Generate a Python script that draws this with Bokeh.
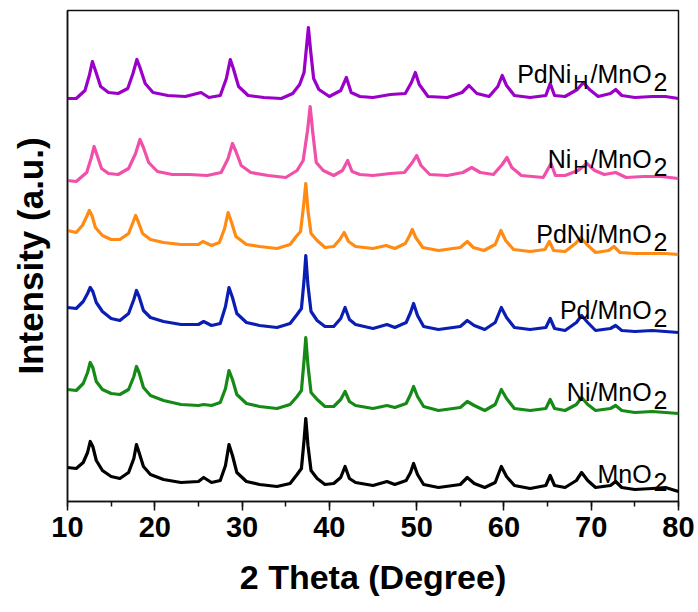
from bokeh.plotting import figure
from bokeh.models import Range1d, FixedTicker, SingleIntervalTicker, Label
from bokeh.embed import file_html
from bokeh.resources import INLINE

# ---------------- data (2 Theta in degrees, intensity in a.u., stacked) -------------
two_theta_a = [10, 11, 11.8, 12.3, 12.6, 12.9, 13.3, 14, 15, 16,
               17, 17.6, 17.9, 18.2, 18.7, 19.5, 21, 23, 25, 25.6,
               26.5, 27.5, 28.1, 28.5, 28.9, 29.4, 30.5, 32, 34, 35.5,
               36.3, 36.8, 37.1, 37.3, 37.55, 37.9, 38.6, 39.5, 40.5, 41.3,
               41.8, 42.3, 43, 45, 46.6, 47.5, 48.8, 49.3, 49.65, 50.1,
               50.8, 52.5, 55, 55.8, 56.6, 57.8, 59, 59.7, 60.3, 61.2,
               63, 64.8, 65.3, 65.8, 67, 68.3, 68.9, 69.6, 70.5, 72.2,
               72.8, 73.5, 75, 77, 78.5, 80]

mno2 = [34, 33, 39, 49, 60, 55, 41, 31, 25, 23,
        29, 43, 57, 49, 35, 27, 22, 19, 20, 24,
        19, 21, 36, 57, 46, 29, 20, 17, 15, 18,
        27, 33, 61, 83, 56, 31, 23, 17, 18, 24,
        35, 23, 19, 16, 20, 17, 21, 29, 38, 27,
        17, 14, 17, 24, 18, 14, 19, 35, 25, 16,
        13, 16, 26, 16, 14, 21, 29, 21, 14, 16,
        20, 14, 12, 13, 14, 10]

ni_mno2 = [112, 111, 118, 129, 139, 134, 120, 112, 108, 107,
           112, 125, 135, 129, 114, 106, 101, 97, 96, 97,
           96, 99, 113, 131, 122, 107, 98, 95, 93, 97,
           105, 111, 141, 164, 136, 109, 102, 95, 95, 102,
           110, 100, 96, 93, 96, 94, 98, 107, 115, 105,
           95, 91, 94, 100, 96, 91, 97, 112, 103, 93,
           91, 93, 102, 93, 91, 97, 104, 97, 91, 93,
           96, 91, 89, 90, 89, 88]

pd_mno2 = [194, 193, 200, 208, 214, 210, 199, 190, 183, 181,
           188, 202, 211, 205, 191, 184, 180, 177, 177, 180,
           176, 178, 195, 214, 204, 188, 179, 176, 174, 178,
           187, 193, 221, 246, 216, 190, 181, 175, 175, 183,
           194, 182, 177, 173, 177, 174, 179, 189, 198, 186,
           175, 172, 175, 181, 176, 172, 179, 194, 184, 174,
           172, 174, 183, 173, 171, 179, 186, 179, 171, 173,
           176, 171, 170, 171, 170, 169]

two_theta_b = [10, 11, 11.7, 12.2, 12.5, 12.8, 13.2, 14, 15, 16,
               17, 17.5, 17.8, 18.1, 18.6, 19.5, 21, 23, 25, 25.5,
               26.5, 27.4, 28.0, 28.4, 28.8, 29.3, 30.5, 32, 34, 35.5,
               36.2, 36.7, 37.05, 37.3, 37.55, 37.9, 38.6, 39.5, 40.5, 41.2,
               41.7, 42.2, 43, 45, 46.5, 47.5, 48.7, 49.2, 49.5, 49.9,
               50.7, 52.5, 55, 55.8, 56.5, 57.7, 59, 59.65, 60.2, 61.1,
               63, 64.7, 65.2, 65.7, 67, 68.2, 68.8, 69.5, 70.5, 72,
               72.6, 73.3, 75, 77, 78.5, 80]

pdni_mno2 = [271, 269, 276, 285, 291, 286, 274, 266, 262, 262,
             268, 279, 286, 280, 268, 262, 259, 257, 257, 260,
             256, 259, 273, 289, 279, 265, 257, 255, 253, 257,
             265, 270, 296, 318, 291, 268, 261, 254, 255, 262,
             269, 260, 255, 253, 256, 253, 258, 266, 272, 264,
             254, 251, 254, 260, 254, 251, 257, 271, 261, 252,
             250, 252, 260, 251, 250, 258, 264, 257, 249, 251,
             255, 249, 248, 248, 248, 247]

two_theta_c = [10, 11, 12.2, 12.7, 13.05, 13.4, 13.9, 14.7, 15.8, 17.0,
               17.8, 18.3, 18.7, 19.3, 20.3, 22, 24, 26, 27.6, 28.4,
               28.9, 29.3, 29.9, 31, 33, 35, 36.3, 37.0, 37.5, 37.8,
               38.1, 38.5, 39.3, 40.5, 41.5, 42.1, 42.6, 43.5, 45, 47,
               48.6, 49.5, 50.0, 50.5, 51.5, 53.5, 55.3, 56.3, 57.3, 58.8,
               59.8, 60.35, 60.9, 62, 64.5, 65.4, 65.9, 67, 68.5, 69.5,
               70.4, 71.5, 72.8, 74, 76, 78, 80]

nih_mno2 = [321, 320, 329, 343, 355, 346, 333, 328, 327, 333,
            348, 362, 354, 339, 330, 327, 327, 326, 329, 343,
            358, 350, 336, 329, 326, 324, 331, 341, 371, 395,
            369, 339, 331, 326, 331, 341, 330, 327, 326, 328,
            329, 339, 346, 336, 327, 326, 329, 334, 329, 327,
            337, 344, 334, 326, 324, 338, 326, 326, 331, 338,
            331, 327, 329, 324, 325, 325, 323]

two_theta_d = [10, 11, 12.0, 12.5, 12.85, 13.2, 13.8, 14.7, 15.8, 16.9,
               17.5, 17.95, 18.3, 18.9, 19.8, 21.5, 23.5, 25.3, 26.2, 27.5,
               28.2, 28.65, 29.0, 29.6, 30.7, 32.5, 34.5, 35.8, 36.6, 37.1,
               37.4, 37.6, 37.85, 38.2, 38.8, 40, 41.3, 41.95, 42.5, 43.5,
               45, 47, 48.7, 49.4, 49.85, 50.3, 51.3, 53.5, 55.2, 56.0,
               56.9, 58.3, 59.3, 59.8, 60.3, 61.2, 63, 64.8, 65.3, 65.8,
               67, 68.4, 69.1, 69.8, 70.8, 72.2, 72.8, 73.5, 75, 77,
               78.5, 80]

pdnih_mno2 = [403, 403, 411, 426, 440, 431, 415, 409, 408, 413,
              428, 442, 434, 418, 409, 406, 405, 409, 404, 406,
              423, 442, 433, 415, 406, 404, 403, 408, 417, 429,
              456, 474, 451, 423, 412, 405, 411, 424, 409, 405,
              404, 407, 408, 419, 429, 417, 405, 404, 409, 416,
              408, 405, 415, 426, 416, 406, 404, 406, 418, 406,
              405, 412, 419, 412, 405, 408, 412, 406, 404, 405,
              405, 403]

# label pieces: (text, is_subscript), baseline height
labels = [
    ([("PdNi", False), ("H", True), ("/MnO", False), ("2", True)], 428),
    ([("Ni", False), ("H", True), ("/MnO", False), ("2", True)], 343),
    ([("PdNi/MnO", False), ("2", True)], 268),
    ([("Pd/MnO", False), ("2", True)], 192),
    ([("Ni/MnO", False), ("2", True)], 110),
    ([("MnO", False), ("2", True)], 28),
]

series = [
    (two_theta_a, mno2, "#000000"),
    (two_theta_a, ni_mno2, "#168A16"),
    (two_theta_a, pd_mno2, "#0A1EB4"),
    (two_theta_b, pdni_mno2, "#FF8A14"),
    (two_theta_c, nih_mno2, "#F050AA"),
    (two_theta_d, pdnih_mno2, "#9A00C8"),
]

# ---------------- figure ----------------
FONT = "Liberation Sans"
p = figure(width=698, height=612, output_backend="svg", toolbar_location=None,
           x_range=Range1d(10, 80), y_range=Range1d(0, 491),
           min_border_left=67, min_border_right=20, min_border_top=10,
           min_border_bottom=111)
p.background_fill_color = "white"
p.border_fill_color = "white"
p.outline_line_color = "#111111"
p.outline_line_width = 1.5
p.xgrid.visible = False
p.ygrid.visible = False

for xs, ys, c in series:
    p.line(xs, ys, line_color=c, line_width=3.2, line_join="round")

xa = p.xaxis[0]
xa.ticker = SingleIntervalTicker(interval=10, num_minor_ticks=2)
xa.axis_label = "2 Theta (Degree)"
xa.axis_label_text_font = FONT
xa.axis_label_text_font_style = "bold"
xa.axis_label_text_font_size = "34px"
xa.axis_label_text_color = "black"
xa.axis_label_standoff = 18
xa.major_label_text_font = FONT
xa.major_label_text_font_style = "bold"
xa.major_label_text_font_size = "29px"
xa.major_label_text_color = "black"
xa.major_label_standoff = 6
xa.major_tick_out = 9
xa.major_tick_in = 0
xa.minor_tick_out = 5
xa.minor_tick_in = 0
xa.axis_line_width = 1.5
xa.major_tick_line_width = 1.5
xa.minor_tick_line_width = 1.5
xa.axis_line_color = "#111111"
xa.major_tick_line_color = "#111111"
xa.minor_tick_line_color = "#111111"

ya = p.yaxis[0]
ya.ticker = FixedTicker(ticks=[])
ya.axis_label = "Intensity (a.u.)"
ya.axis_label_text_font = FONT
ya.axis_label_text_font_style = "bold"
ya.axis_label_text_font_size = "35px"
ya.axis_label_text_color = "black"
ya.axis_label_standoff = 18
ya.major_label_standoff = 0
ya.major_tick_out = 0
ya.minor_tick_out = 0
ya.axis_line_width = 1.5
ya.axis_line_color = "#111111"

# ---------------- curve labels ----------------
WID = {"P": 667, "d": 556, "N": 722, "i": 222, "H": 722, "/": 278,
       "M": 833, "n": 556, "O": 778, "2": 556}


def text_width(s, size):
    return sum(WID[ch] for ch in s) * size / 1000.0


MAIN = 25
for pieces, base in labels:
    cur = -11.0
    for txt, sub in reversed(pieces):
        size = 21 if (sub and txt == "H") else MAIN
        yy = base - 8 if sub else base
        p.add_layout(Label(x=80, y=yy, x_offset=cur, text=txt,
                           text_font=FONT, text_font_size=f"{size}px",
                           text_color="black", text_align="right",
                           text_baseline="alphabetic"))
        cur -= text_width(txt, size) + 2

open("out.html", "w").write(file_html(p, INLINE))
